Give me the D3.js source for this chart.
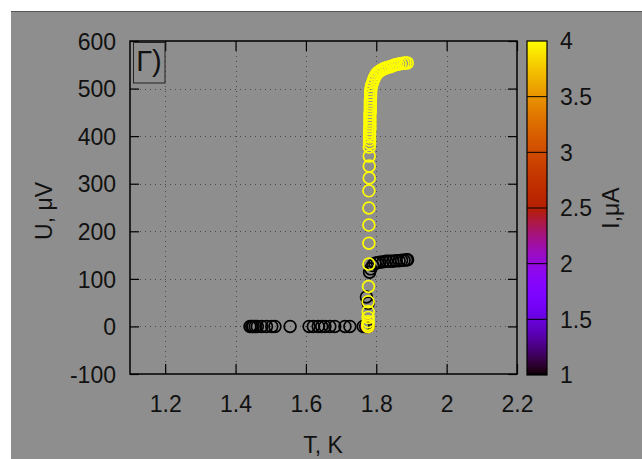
<!DOCTYPE html>
<html>
<head>
<meta charset="utf-8">
<script src="https://cdn.jsdelivr.net/npm/d3@7/dist/d3.min.js"></script>
<style>
  html, body { margin: 0; padding: 0; background: #fff; }
  svg { display: block; }
  text { font-family: "Liberation Sans", Arial, sans-serif; fill: #111; }
</style>
</head>
<body>
<svg id="chart" width="642" height="459"></svg>
<script>
// Axis tick values
const xTicks = [1.2, 1.4, 1.6, 1.8, 2, 2.2];
const yTicks = [-100, 0, 100, 200, 300, 400, 500, 600];
const cbTicks = [1, 1.5, 2, 2.5, 3, 3.5, 4];

// I = 1 uA sweep: temperature (K) and voltage (uV)
const tempI1 = [1.441, 1.446, 1.450, 1.456, 1.462, 1.474, 1.488, 1.503, 1.512, 1.555,
                1.609, 1.621, 1.635, 1.645, 1.654, 1.668, 1.682, 1.711, 1.725, 1.763,
                1.770, 1.774, 1.772, 1.777, 1.781, 1.784, 1.790, 1.796, 1.803, 1.810,
                1.820, 1.829, 1.838, 1.847, 1.856, 1.865, 1.872, 1.879, 1.886, 1.889];
const voltI1 = [0, 0, 0, 0, 0, 0, 0, 0, 0, 0,
                0, 0, 0, 0, 0, 0, 0, 0, 0, 0,
                0, 0, 62, 49, 114, 121, 128, 133, 134, 135,
                136, 137, 137, 137, 138, 138, 139, 139, 140, 140];

// Intermediate currents, only a few points at the transition
const currentMid = [2, 2.5, 3, 3.5];
const tempMid = [1.774, 1.775, 1.776, 1.777];
const voltMid = [1, 0, 1, 0];

// I = 4 uA sweep
const tempI4 = [1.776, 1.776, 1.777, 1.777, 1.777, 1.777, 1.778, 1.779, 1.779, 1.779,
                1.779, 1.779, 1.780, 1.780, 1.780, 1.780, 1.781, 1.781, 1.781, 1.781,
                1.781, 1.782, 1.782, 1.782, 1.782, 1.782, 1.782, 1.783, 1.783, 1.783,
                1.783, 1.783, 1.784, 1.784, 1.784, 1.785, 1.787, 1.790, 1.793, 1.797,
                1.801, 1.805, 1.810, 1.815, 1.820, 1.826, 1.833, 1.840, 1.847, 1.854,
                1.861, 1.868, 1.876, 1.882, 1.888];
const voltI4 = [0, 4, 10, 19, 31, 52, 84, 131, 175, 213,
                249, 285, 312, 337, 358, 377, 385, 392, 398, 404,
                410, 416, 422, 428, 434, 440, 446, 452, 458, 464,
                470, 476, 482, 488, 494, 500, 507, 514, 520, 526,
                531, 534, 537, 539, 541, 543, 545, 546, 548, 550,
                551, 552, 553, 554, 554];

const svg = d3.select("#chart");
const W = 642, H = 459;

// gnuplot-style rgbformulae 7,5,15 palette
function gnuPalette(t) {
  const r = Math.sqrt(t), g = t * t * t, b = Math.max(0, Math.sin(2 * Math.PI * t));
  return d3.rgb(r * 255, g * 255, b * 255).formatHex();
}

const plot = { left: 130, right: 517, top: 41, bottom: 374 };
const cbar = { left: 527, right: 547, top: 41, bottom: 375 };

const x = d3.scaleLinear().domain([1.1, 2.2]).range([plot.left, plot.right]);
const y = d3.scaleLinear().domain([-100, 600]).range([plot.bottom, plot.top]);
const color = d3.scaleSequential(gnuPalette).domain([1, 4]);
const cbY = d3.scaleLinear().domain([1, 4]).range([cbar.bottom, cbar.top]);

// page background
svg.append("rect").attr("width", W).attr("height", H).attr("fill", "#fff");
svg.append("rect").attr("x", 11).attr("y", 11).attr("width", W - 11).attr("height", H - 11)
  .attr("fill", "#8e8e8e");
svg.append("line").attr("x1", 11).attr("x2", W).attr("y1", 11.5).attr("y2", 11.5)
  .attr("stroke", "#555").attr("stroke-width", 1);

// grid
const grid = svg.append("g").attr("stroke", "#4a4a4a").attr("stroke-width", 1)
  .attr("stroke-dasharray", "1,4");
grid.selectAll("line.gx").data(xTicks.filter(d => d < 2.2)).join("line")
  .attr("x1", d => Math.round(x(d)) + 0.5).attr("x2", d => Math.round(x(d)) + 0.5)
  .attr("y1", plot.top).attr("y2", plot.bottom);
grid.selectAll("line.gy").data(yTicks.filter(d => d > -100 && d < 600)).join("line")
  .attr("y1", d => Math.round(y(d)) + 0.5).attr("y2", d => Math.round(y(d)) + 0.5)
  .attr("x1", plot.left).attr("x2", plot.right);

// axes (ticks point inward, mirrored on top and right); plain hyphen for negatives
const fmt = d => String(d);
const gx = svg.append("g").attr("transform", `translate(0,${plot.bottom})`)
  .call(d3.axisBottom(x).tickValues(xTicks).tickSize(-10).tickPadding(22).tickFormat(fmt));
const gy = svg.append("g").attr("transform", `translate(${plot.left},0)`)
  .call(d3.axisLeft(y).tickValues(yTicks).tickSize(-9).tickPadding(14).tickFormat(fmt));
const gxt = svg.append("g").attr("transform", `translate(0,${plot.top})`)
  .call(d3.axisTop(x).tickValues(xTicks).tickSize(-10).tickFormat(""));
const gyr = svg.append("g").attr("transform", `translate(${plot.right},0)`)
  .call(d3.axisRight(y).tickValues(yTicks).tickSize(-9).tickFormat(""));
[gx, gy, gxt, gyr].forEach(g => {
  g.select(".domain").remove();
  g.selectAll(".tick line").attr("stroke", "#000").attr("stroke-width", 1.2);
  g.selectAll("text").attr("font-size", 23).attr("fill", "#111")
    .attr("font-family", "Liberation Sans, Arial, sans-serif");
});
gy.selectAll("text").attr("dy", "0.36em");

// data points: open circles coloured by current
const pts = svg.append("g").attr("fill", "none").attr("stroke-width", 1.7);
function drawSeries(temps, volts, currents) {
  pts.append("g").selectAll("circle").data(temps.map((t, i) => ({ t, u: volts[i], c: currents[i] })))
    .join("circle")
    .attr("cx", d => x(d.t)).attr("cy", d => y(d.u)).attr("r", 5.9)
    .attr("stroke", d => color(d.c));
}
drawSeries(tempI1, voltI1, tempI1.map(() => 1));
drawSeries(tempMid, voltMid, currentMid);
drawSeries(tempI4, voltI4, tempI4.map(() => 4));

// plot frame
svg.append("rect").attr("x", plot.left).attr("y", plot.top)
  .attr("width", plot.right - plot.left).attr("height", plot.bottom - plot.top)
  .attr("fill", "none").attr("stroke", "#000").attr("stroke-width", 1.5);

// panel tag
svg.append("rect").attr("x", 133.5).attr("y", 42.5).attr("width", 31.5).attr("height", 40.5)
  .attr("fill", "none").attr("stroke", "#222").attr("stroke-width", 1);
svg.append("text").attr("x", 149).attr("y", 71).attr("text-anchor", "middle")
  .attr("font-size", 29).text("Г)");

// axis titles
svg.append("text").attr("x", 323).attr("y", 453).attr("text-anchor", "middle")
  .attr("font-size", 23).text("T, K");
svg.append("text").attr("transform", "translate(52,211) rotate(-90)").attr("text-anchor", "middle")
  .attr("font-size", 23).text("U, μV");

// colour bar
const defs = svg.append("defs");
const grad = defs.append("linearGradient").attr("id", "cbgrad")
  .attr("x1", 0).attr("y1", 1).attr("x2", 0).attr("y2", 0);
grad.selectAll("stop").data(d3.range(0, 1.0001, 1 / 100)).join("stop")
  .attr("offset", d => d).attr("stop-color", d => gnuPalette(d));
svg.append("rect").attr("x", cbar.left).attr("y", cbar.top)
  .attr("width", cbar.right - cbar.left).attr("height", cbar.bottom - cbar.top)
  .attr("fill", "url(#cbgrad)");
svg.append("g").selectAll("line").data(cbTicks.slice(1, -1)).join("line")
  .attr("x1", cbar.left).attr("x2", cbar.right)
  .attr("y1", d => cbY(d)).attr("y2", d => cbY(d))
  .attr("stroke", "#000").attr("stroke-width", 1);
svg.append("rect").attr("x", cbar.left).attr("y", cbar.top)
  .attr("width", cbar.right - cbar.left).attr("height", cbar.bottom - cbar.top)
  .attr("fill", "none").attr("stroke", "#000").attr("stroke-width", 1.2);
svg.append("g").selectAll("text").data(cbTicks).join("text")
  .attr("x", 560).attr("y", d => cbY(d)).attr("dy", "0.36em")
  .attr("font-size", 23).text(fmt);
svg.append("text").attr("transform", "translate(619,208) rotate(-90)").attr("text-anchor", "middle")
  .attr("font-size", 23).text("I,μA");
</script>
</body>
</html>
